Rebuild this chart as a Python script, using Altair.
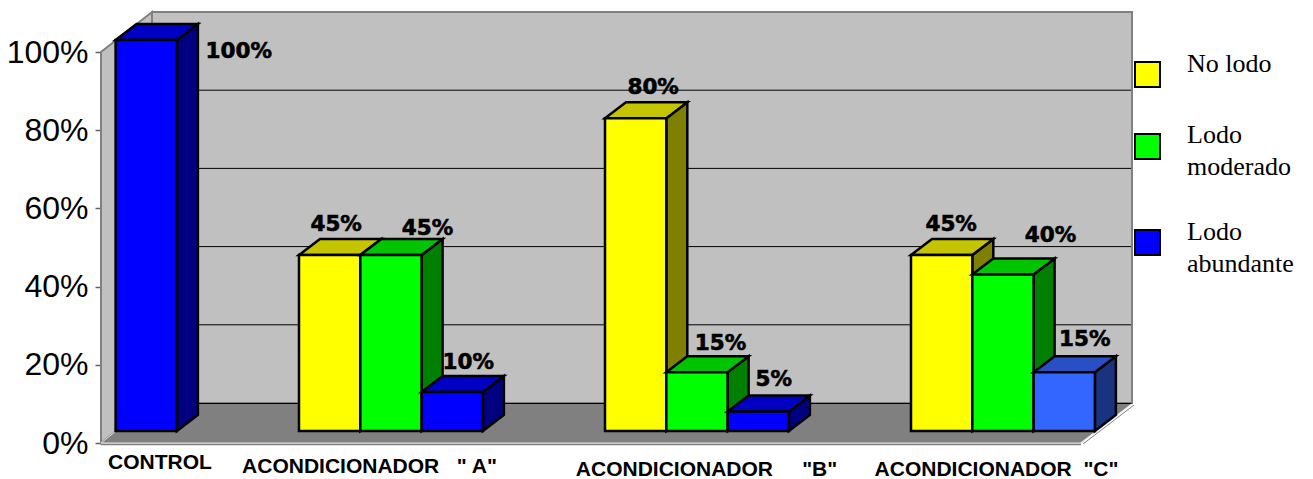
import altair as alt

CATEGORIES = ["CONTROL", "ACONDICIONADOR\u00a0\u00a0\u00a0\" A\"", "ACONDICIONADOR\u00a0\u00a0\u00a0\u00a0\u00a0\"B\"", "ACONDICIONADOR\u00a0\u00a0\"C\""]
SERIES = ["No lodo", "Lodo moderado", "Lodo abundante"]
NO_LODO = [0, 45, 80, 45]
MODERADO = [0, 45, 15, 40]
ABUNDANTE = [100, 10, 5, 15]
TICKS = [0, 20, 40, 60, 80, 100]

# ---- projection helpers (page pixels -> scales) ----
PX = 3.91
W, H = 1204, 471
LEFT = 93
X_DOM = [LEFT + 8, LEFT + 8 + W]
BASE_PAGE = 443
Y_DOM = [(BASE_PAGE - (8 + H)) / PX, (BASE_PAGE - 8) / PX]
XS = alt.Scale(domain=X_DOM, range=[0, W], nice=False, zero=False, clamp=False)
YS = alt.Scale(domain=Y_DOM, range=[H, 0], nice=False, zero=False, clamp=False)


def val(py):
    return (BASE_PAGE - py) / PX


def fx(field="x", **kw):
    return alt.X(f"{field}:Q", scale=XS, axis=None, title=None, **kw)


def fy(field="y", **kw):
    return alt.Y(f"{field}:Q", scale=YS, axis=None, title=None, **kw)


def chart(rows):
    return alt.Chart(alt.Data(values=rows))


def side_area(rows, fill, stroke, sw):
    return chart(rows).mark_area(fill=fill, stroke=stroke, strokeWidth=sw, strokeJoin="miter", opacity=1).encode(
        x=fx(), y=fy(), y2=alt.Y2("y2:Q"))


def top_area(rows, fill, stroke, sw):
    return chart(rows).mark_area(orient="horizontal", fill=fill, stroke=stroke, strokeWidth=sw, strokeJoin="miter", opacity=1).encode(
        y=fy(), x=fx(), x2=alt.X2("x2:Q"))


def line(rows, color, sw):
    return chart(rows).mark_line(color=color, strokeWidth=sw, strokeCap="butt").encode(
        x=fx(), y=fy(), order=alt.Order("i:Q"))


def seg(x0, y0, x1, y1):
    return [{"x": x0, "y": val(y0), "i": 0}, {"x": x1, "y": val(y1), "i": 1}]


layers = []

# Axis carrier (drawn first, ticks + labels only)
layers.append(
    chart([{"x": 101, "y": v} for v in TICKS]).mark_point(opacity=0).encode(
        x=fx(),
        y=alt.Y("y:Q", scale=YS, title=None, axis=alt.Axis(
            values=TICKS, labelExpr="datum.value + '%'", domain=False, grid=False,
            ticks=True, tickSize=6, tickColor="#606060", tickWidth=1.5,
            labelFont="Liberation Sans", labelFontSize=32, labelColor="#000000",
            labelPadding=7, labelOverlap=False, labelFlush=False, labelBound=False)),
    )
)

WALL = "#C0C0C0"
FLOOR = "#808080"
EDGE = "#808080"
# left wall
layers.append(side_area([
    {"x": 101, "y": val(443), "y2": val(52), "i": 0},
    {"x": 152, "y": val(403), "y2": val(12), "i": 1}], WALL, EDGE, 2))
# back wall
layers.append(chart([{"x": 152, "x2": 1132, "y": val(403), "y2": val(12)}]).mark_rect(
    fill=WALL, stroke=EDGE, strokeWidth=2).encode(
    x=fx(), x2=alt.X2("x2:Q"), y=fy(), y2=alt.Y2("y2:Q")))
# grid on back wall
for t in TICKS[1:-1]:
    py = 403 - t * PX
    layers.append(line(seg(153, py, 1131, py), "#000000", 1))
# floor
layers.append(top_area([
    {"y": val(403), "x": 152, "x2": 1132, "i": 0},
    {"y": val(443), "x": 101, "x2": 1081, "i": 1}], FLOOR, FLOOR, 1))
layers.append(line(seg(152, 403.5, 1132, 403.5), "#000000", 1.2))
# floor light / dark edges
layers.append(line(seg(101, 444.5, 1081, 444.5), "#808080", 1.5))
layers.append(line(seg(101, 443, 1081, 443), "#E4E4E4", 1.2))
layers.append(line(seg(1081, 443, 1132, 404), "#F0F0F0", 1.5))
layers.append(line(seg(1083, 444, 1134, 405), "#808080", 1))
layers.append(line(seg(101, 443, 116, 431), "#E4E4E4", 1))

# bars
GROUP0, GROUP_STEP, BAR_W = -7, 306, 61.3
DX, DY = 21, 16
FRONT_Y = 431
BAR_SW = 2.5
FRONT = ["#FFFF00", "#00FF00", "#0000FF"]
TOP = ["#C4C400", "#00C400", "#0000C4"]
SIDE = ["#808000", "#008000", "#000080"]
NUDGE = {(0, 2): (82, 28), (1, 0): (-4, -14), (1, 1): (26, -10.5), (1, 2): (5.5, -13),
         (2, 0): (7, -14), (2, 1): (13, -12), (2, 2): (5, -15),
         (3, 0): (-1, -14), (3, 1): (37, -23), (3, 2): (10, -16)}
labels = []
for g, vals in enumerate(zip(NO_LODO, MODERADO, ABUNDANTE)):
    for s, v in enumerate(vals):
        if not v:
            continue
        x0 = GROUP0 + GROUP_STEP * g + BAR_W * s
        x1 = x0 + BAR_W
        yt = FRONT_Y - v * PX
        f, t, d = FRONT[s], TOP[s], SIDE[s]
        if g == 3 and s == 2:
            f, t, d = "#3366FF", "#2850C4", "#1A3380"
        layers.append(side_area([
            {"x": x1, "y": val(FRONT_Y), "y2": val(yt), "i": 0},
            {"x": x1 + DX, "y": val(FRONT_Y - DY), "y2": val(yt - DY), "i": 1}], d, "#000000", BAR_SW))
        layers.append(top_area([
            {"y": val(yt - DY), "x": x0 + DX, "x2": x1 + DX, "i": 0},
            {"y": val(yt), "x": x0, "x2": x1, "i": 1}], t, "#000000", BAR_SW))
        layers.append(chart([{"x": x0, "x2": x1, "y": val(FRONT_Y), "y2": val(yt)}]).mark_rect(
            fill=f, stroke="#000000", strokeWidth=BAR_SW).encode(
            x=fx(), x2=alt.X2("x2:Q"), y=fy(), y2=alt.Y2("y2:Q")))
        nx, ny = NUDGE[(g, s)]
        labels.append({"x": x0 + BAR_W / 2 + DX / 2 + nx, "y": val(yt - DY + ny), "t": f"{v}%"})

layers.append(chart(labels).mark_text(
    font="DejaVu Sans", fontWeight="bold", fontSize=21.5, color="#000000", stroke="#000000", strokeWidth=0.6,
    baseline="middle", align="center").encode(
    x=fx(), y=fy(), text="t:N"))

# category labels
CAT_POS = [(160, 463), (369.5, 467), (706.5, 470), (996.5, 470)]
layers.append(chart([{"x": p[0], "y": val(p[1]), "t": c} for c, p in zip(CATEGORIES, CAT_POS)]).mark_text(
    font="Liberation Sans", fontWeight="bold", fontSize=21, color="#000000", baseline="middle", align="center").encode(
    x=fx(), y=fy(), text="t:N"))

# legend
LEG_TOP = [62, 134, 230]
LEG_LINES = [[("No lodo", 72)], [("Lodo", 143), ("moderado", 175)], [("Lodo", 240), ("abundante", 272)]]
for s, top in enumerate(LEG_TOP):
    layers.append(chart([{"x": 1135, "x2": 1160, "y": val(top), "y2": val(top + 25)}]).mark_rect(
        fill=FRONT[s], stroke="#000000", strokeWidth=2).encode(
        x=fx(), x2=alt.X2("x2:Q"), y=fy(), y2=alt.Y2("y2:Q")))
leg_rows = [{"x": 1187, "y": val(b), "t": t} for ls in LEG_LINES for t, b in ls]
layers.append(chart(leg_rows).mark_text(
    font="Liberation Serif", fontSize=26, color="#000000", baseline="alphabetic", align="left").encode(
    x=fx(), y=fy(), text="t:N"))

chart_out = alt.layer(*layers).properties(
    width=W, height=H, background="#FFFFFF",
    padding={"left": LEFT, "top": 0, "right": 0, "bottom": 0},
    autosize=alt.AutoSizeParams(type="none"),
).configure_view(stroke=None).resolve_scale(x="shared", y="shared").resolve_axis(x="independent", y="independent")

chart_out.save("out.html", embed_options={"renderer": "svg", "actions": False})
